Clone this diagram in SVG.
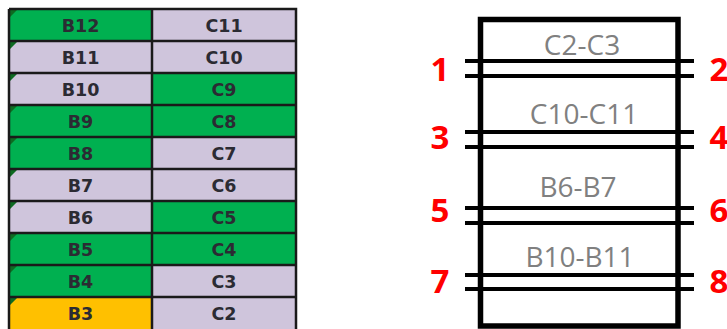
<svg xmlns="http://www.w3.org/2000/svg" width="727" height="329" viewBox="0 0 727 329">
  <style>
    .g { fill: #00B050; }
    .l { fill: #CFC5DC; }
    .y { fill: #FFC000; }
    .grid { stroke: #1a1a1a; stroke-width: 2.5; fill: none; }
    .tri { fill: #0E6B22; }
    .ct { font-family: "DejaVu Sans", sans-serif; font-weight: bold; font-size: 17.5px; fill: #2b2b33; text-anchor: middle; }
    .frame { stroke: #000; stroke-width: 5.5; fill: #fff; }
    .bar { stroke: #000; stroke-width: 4; }
    .lab { font-family: "Open Sans", sans-serif; font-size: 28px; fill: #808080; text-anchor: middle; }
    .num { font-family: "Open Sans", sans-serif; font-weight: bold; font-size: 33px; fill: #FF0000; text-anchor: middle; }
  </style>
  <rect width="727" height="329" fill="#fff"/>

  <!-- spreadsheet columns -->
  <g id="table">
    <rect class="g" x="9" y="9" width="143" height="32"/>
    <rect class="l" x="152" y="9" width="144" height="32"/>
    <rect class="l" x="9" y="41" width="143" height="32"/>
    <rect class="l" x="152" y="41" width="144" height="32"/>
    <rect class="l" x="9" y="73" width="143" height="32"/>
    <rect class="g" x="152" y="73" width="144" height="32"/>
    <rect class="g" x="9" y="105" width="143" height="32"/>
    <rect class="g" x="152" y="105" width="144" height="32"/>
    <rect class="g" x="9" y="137" width="143" height="32"/>
    <rect class="l" x="152" y="137" width="144" height="32"/>
    <rect class="l" x="9" y="169" width="143" height="32"/>
    <rect class="l" x="152" y="169" width="144" height="32"/>
    <rect class="l" x="9" y="201" width="143" height="32"/>
    <rect class="g" x="152" y="201" width="144" height="32"/>
    <rect class="g" x="9" y="233" width="143" height="32"/>
    <rect class="g" x="152" y="233" width="144" height="32"/>
    <rect class="g" x="9" y="265" width="143" height="32"/>
    <rect class="l" x="152" y="265" width="144" height="32"/>
    <rect class="y" x="9" y="297" width="143" height="32"/>
    <rect class="l" x="152" y="297" width="144" height="32"/>

    <!-- corner markers -->
    <path class="tri" d="M10 10h7l-7 7z M10 42h7l-7 7z M10 74h7l-7 7z M10 106h7l-7 7z M10 138h7l-7 7z M10 170h7l-7 7z M10 202h7l-7 7z M10 234h7l-7 7z M10 266h7l-7 7z M10 298h7l-7 7z"/>

    <path class="grid" d="M9 9H296V330 M9 9V330 M152 9V330 M9 41H296 M9 73H296 M9 105H296 M9 137H296 M9 169H296 M9 201H296 M9 233H296 M9 265H296 M9 297H296"/>

    <text class="ct" x="80.5" y="32">B12</text>
    <text class="ct" x="224" y="32">C11</text>
    <text class="ct" x="80.5" y="64">B11</text>
    <text class="ct" x="224" y="64">C10</text>
    <text class="ct" x="80.5" y="96">B10</text>
    <text class="ct" x="224" y="96">C9</text>
    <text class="ct" x="80.5" y="128">B9</text>
    <text class="ct" x="224" y="128">C8</text>
    <text class="ct" x="80.5" y="160">B8</text>
    <text class="ct" x="224" y="160">C7</text>
    <text class="ct" x="80.5" y="192">B7</text>
    <text class="ct" x="224" y="192">C6</text>
    <text class="ct" x="80.5" y="224">B6</text>
    <text class="ct" x="224" y="224">C5</text>
    <text class="ct" x="80.5" y="256">B5</text>
    <text class="ct" x="224" y="256">C4</text>
    <text class="ct" x="80.5" y="288">B4</text>
    <text class="ct" x="224" y="288">C3</text>
    <text class="ct" x="80.5" y="320">B3</text>
    <text class="ct" x="224" y="320">C2</text>
  </g>

  <!-- stacked frame -->
  <g id="frame">
    <rect class="frame" x="480.5" y="19.5" width="197.5" height="306.5"/>
  </g>

  <g id="connectors">
    <line class="bar" x1="465" y1="61" x2="694" y2="61"/>
    <line class="bar" x1="465" y1="76" x2="694" y2="76"/>
    <line class="bar" x1="465" y1="132" x2="694" y2="132"/>
    <line class="bar" x1="465" y1="147" x2="694" y2="147"/>
    <line class="bar" x1="465" y1="208" x2="694" y2="208"/>
    <line class="bar" x1="465" y1="223" x2="694" y2="223"/>
    <line class="bar" x1="465" y1="275" x2="694" y2="275"/>
    <line class="bar" x1="465" y1="289" x2="694" y2="289"/>
  </g>

  <g id="labels">
    <text class="lab" x="582" y="55">C2-C3</text>
    <text class="lab" x="584" y="124">C10-C11</text>
    <text class="lab" x="578" y="197">B6-B7</text>
    <text class="lab" x="580" y="267">B10-B11</text>
  </g>

  <g id="numbers">
    <text class="num" x="440" y="81">1</text>
    <text class="num" x="719" y="81">2</text>
    <text class="num" x="440" y="149">3</text>
    <text class="num" x="719" y="149">4</text>
    <text class="num" x="440" y="222">5</text>
    <text class="num" x="719" y="222">6</text>
    <text class="num" x="440" y="293">7</text>
    <text class="num" x="719" y="293">8</text>
  </g>
</svg>
